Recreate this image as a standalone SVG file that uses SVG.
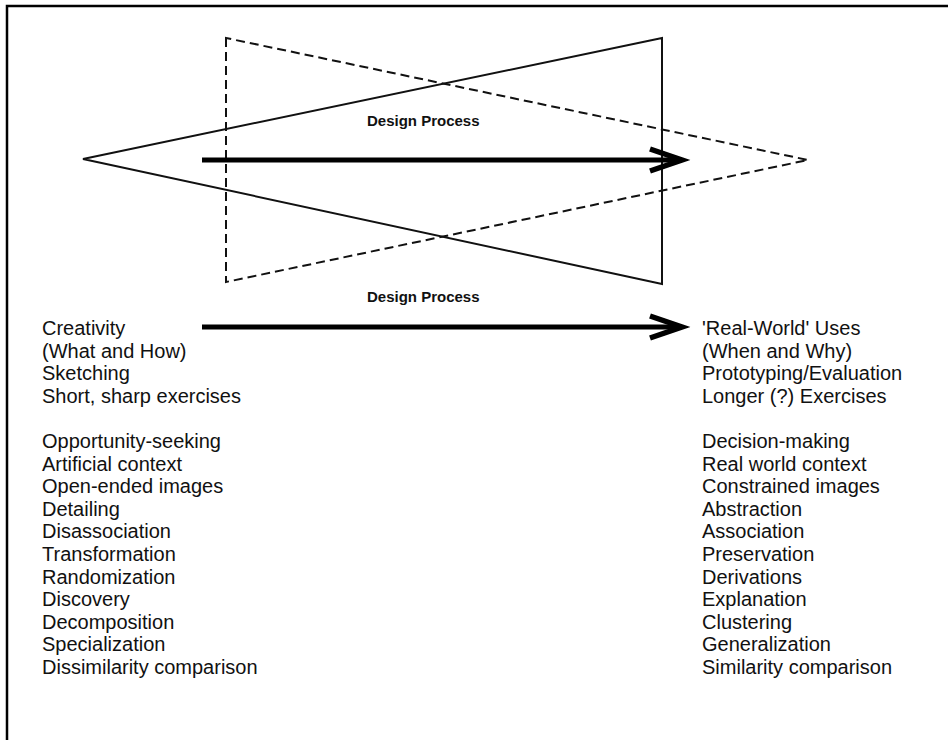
<svg xmlns="http://www.w3.org/2000/svg" width="948" height="740" viewBox="0 0 948 740">
<style>
.t{font-family:"Liberation Sans",Arial,sans-serif;font-size:20px;fill:#111}
.lbl{font-family:"Liberation Sans",Arial,sans-serif;font-size:15px;font-weight:bold;fill:#111}
.tri{fill:none;stroke:#111;stroke-width:2;stroke-linejoin:miter}
.dash{stroke-dasharray:9 5}
.shaft{stroke:#000;stroke-width:5;fill:none}
.head{stroke:#000;stroke-width:5.5;fill:none;stroke-linejoin:miter;stroke-miterlimit:10}
</style>
<rect x="0" y="0" width="948" height="740" fill="#fff"/>
<rect id="frame" x="7" y="6" width="960" height="760" fill="none" stroke="#000" stroke-width="2.5"/>
<g id="solid-triangle"><polygon class="tri" points="83,159 662,38 662,284"/></g>
<g id="dashed-triangle"><polygon class="tri dash" points="226,38 226,282 808,160"/></g>
<g id="connectors">
<line class="shaft" x1="202" y1="160" x2="680" y2="160"/>
<polyline class="head" points="650,149 682,160 650,171"/>
<line class="shaft" x1="202" y1="327" x2="680" y2="327"/>
<polyline class="head" points="650,316 682,327 650,338"/>
</g>
<g id="label-top"><text class="lbl" x="367" y="126">Design Process</text></g>
<g id="label-mid"><text class="lbl" x="367" y="302">Design Process</text></g>
<g id="left-column">
<text class="t" x="42" y="335">Creativity</text>
<text class="t" x="42" y="357.7">(What and How)</text>
<text class="t" x="42" y="380.4">Sketching</text>
<text class="t" x="42" y="403">Short, sharp exercises</text>
<text class="t" x="42" y="448">Opportunity-seeking</text>
<text class="t" x="42" y="470.6">Artificial context</text>
<text class="t" x="42" y="493.2">Open-ended images</text>
<text class="t" x="42" y="515.8">Detailing</text>
<text class="t" x="42" y="538.4">Disassociation</text>
<text class="t" x="42" y="561">Transformation</text>
<text class="t" x="42" y="583.6">Randomization</text>
<text class="t" x="42" y="606.2">Discovery</text>
<text class="t" x="42" y="628.8">Decomposition</text>
<text class="t" x="42" y="651.4">Specialization</text>
<text class="t" x="42" y="674">Dissimilarity comparison</text>
</g>
<g id="right-column">
<text class="t" x="702" y="335">'Real-World' Uses</text>
<text class="t" x="702" y="357.7">(When and Why)</text>
<text class="t" x="702" y="380.4">Prototyping/Evaluation</text>
<text class="t" x="702" y="403">Longer (?) Exercises</text>
<text class="t" x="702" y="448">Decision-making</text>
<text class="t" x="702" y="470.6">Real world context</text>
<text class="t" x="702" y="493.2">Constrained images</text>
<text class="t" x="702" y="515.8">Abstraction</text>
<text class="t" x="702" y="538.4">Association</text>
<text class="t" x="702" y="561">Preservation</text>
<text class="t" x="702" y="583.6">Derivations</text>
<text class="t" x="702" y="606.2">Explanation</text>
<text class="t" x="702" y="628.8">Clustering</text>
<text class="t" x="702" y="651.4">Generalization</text>
<text class="t" x="702" y="674">Similarity comparison</text>
</g>
</svg>
